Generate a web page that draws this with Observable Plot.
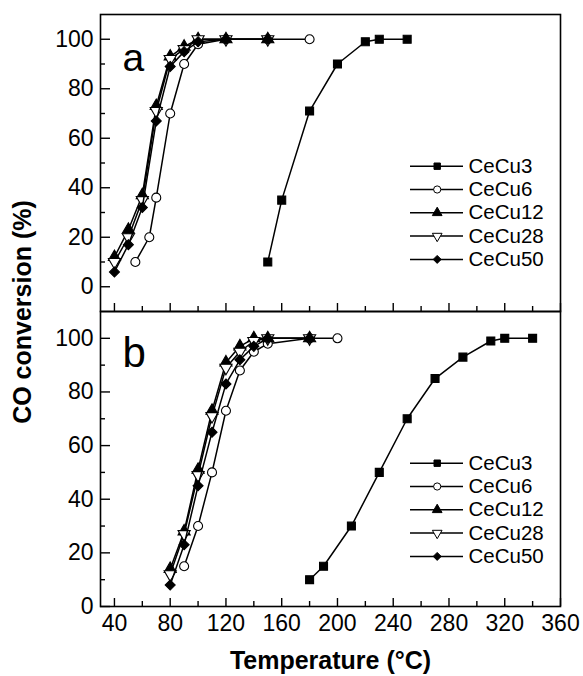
<!DOCTYPE html>
<html>
<head>
<meta charset="utf-8">
<script src="https://cdn.jsdelivr.net/npm/d3@7"></script>
<script src="https://cdn.jsdelivr.net/npm/@observablehq/plot@0.6"></script>
<style>
  html, body { margin: 0; padding: 0; background: #fff; }
  #wrap { position: relative; width: 583px; height: 676px; font-family: "Liberation Sans", Arial, sans-serif; }
  #wrap > svg, #wrap > div { position: absolute; left: 0; }
</style>
</head>
<body>
<div id="wrap"></div>
<script>
// ---- data ----
const seriesNames = ["CeCu3", "CeCu6", "CeCu12", "CeCu28", "CeCu50"];

// panel a
const aCeCu3T  = [150, 160, 180, 200, 220, 230, 250];
const aCeCu3V  = [10, 35, 71, 90, 99, 100, 100];
const aCeCu6T  = [55, 65, 70, 80, 90, 100, 120, 150, 180];
const aCeCu6V  = [10, 20, 36, 70, 90, 98, 100, 100, 100];
const aCeCu12T = [40, 50, 60, 70, 80, 90, 100, 120, 150];
const aCeCu12V = [12, 23, 37, 73, 93, 97, 100, 100, 100];
const aCeCu28T = [40, 50, 60, 70, 80, 90, 100, 120, 150];
const aCeCu28V = [10, 20, 35, 71, 92, 96, 100, 100, 100];
const aCeCu50T = [40, 50, 60, 70, 80, 90, 100, 120, 150];
const aCeCu50V = [6, 17, 32, 67, 89, 95, 99, 100, 100];

// panel b
const bCeCu3T  = [180, 190, 210, 230, 250, 270, 290, 310, 320, 340];
const bCeCu3V  = [10, 15, 30, 50, 70, 85, 93, 99, 100, 100];
const bCeCu6T  = [90, 100, 110, 120, 130, 140, 150, 180, 200];
const bCeCu6V  = [15, 30, 50, 73, 88, 95, 98, 100, 100];
const bCeCu12T = [80, 90, 100, 110, 120, 130, 140, 150, 180];
const bCeCu12V = [14, 28, 51, 73, 91, 97, 100, 100, 100];
const bCeCu28T = [80, 90, 100, 110, 120, 130, 140, 150, 180];
const bCeCu28V = [12, 27, 49, 71, 89, 95, 99, 100, 100];
const bCeCu50T = [80, 90, 100, 110, 120, 130, 140, 150, 180];
const bCeCu50V = [8, 23, 45, 65, 83, 92, 97, 100, 100];

// axes
const xMajor = [40, 80, 120, 160, 200, 240, 280, 320, 360];
const xMinor = [60, 100, 140, 180, 220, 260, 300, 340];
const yMajor = [0, 20, 40, 60, 80, 100];
const yMinor = [10, 30, 50, 70, 90];
const xTitle = "Temperature (°C)";
const yTitle = "CO conversion (%)";

// ---- styling ----
const downTriangle = {
  draw(context, size) {
    const s3 = Math.sqrt(3);
    const y = -Math.sqrt(size / (s3 * 3));
    context.moveTo(0, -y * 2);
    context.lineTo(-s3 * y, y);
    context.lineTo(s3 * y, y);
    context.closePath();
  }
};
const symbols = {CeCu3: "square", CeCu6: "circle", CeCu12: "triangle", CeCu28: downTriangle, CeCu50: "diamond2"};
const fills = {CeCu3: "black", CeCu6: "white", CeCu12: "black", CeCu28: "white", CeCu50: "black"};

const rows = (T, V, name) => T.map((t, i) => ({t, v: V[i], name}));
const dataA = [
  rows(aCeCu3T, aCeCu3V, "CeCu3"), rows(aCeCu6T, aCeCu6V, "CeCu6"),
  rows(aCeCu12T, aCeCu12V, "CeCu12"), rows(aCeCu28T, aCeCu28V, "CeCu28"),
  rows(aCeCu50T, aCeCu50V, "CeCu50")
];
const dataB = [
  rows(bCeCu3T, bCeCu3V, "CeCu3"), rows(bCeCu6T, bCeCu6V, "CeCu6"),
  rows(bCeCu12T, bCeCu12V, "CeCu12"), rows(bCeCu28T, bCeCu28V, "CeCu28"),
  rows(bCeCu50T, bCeCu50V, "CeCu50")
];

const W = 583, ML = 100, MR = 23;
const plotW = W - ML - MR;
const xDomain = [30, 360];
const font = "'Liberation Sans', Arial, sans-serif";

function panel({data, yDomain, height, marginTop, marginBottom, letter, bottomAxis}) {
  const plotH = height - marginTop - marginBottom;
  const xs = Plot.scale({x: {domain: xDomain, range: [ML, W - MR]}});
  const ys = Plot.scale({y: {domain: yDomain, range: [height - marginBottom, marginTop]}});
  const legTop = marginTop + 151.7, legStep = 23.3;
  const lx1 = xs.invert(410), lx2 = xs.invert(463), lxm = xs.invert(436.7), ltx = xs.invert(468);
  const legend = seriesNames.map((name, i) => ({name, y: ys.invert(legTop + i * legStep)}));

  const marks = [
    Plot.frame({strokeWidth: 1.6}),
    Plot.tickX(xMajor, {x: d => d, insetTop: plotH - 8, strokeWidth: 1.4}),
    Plot.tickX(xMinor, {x: d => d, insetTop: plotH - 5, strokeWidth: 1.4}),
    Plot.tickY(yMajor, {y: d => d, insetRight: plotW - 10, strokeWidth: 1.4}),
    Plot.tickY(yMinor, {y: d => d, insetRight: plotW - 5, strokeWidth: 1.4}),
    Plot.text(yMajor, {y: d => d, text: d => String(d), frameAnchor: "left", dx: -7, textAnchor: "end", fontSize: 23}),
    Plot.text([letter], {frameAnchor: "top-left", dx: 22, dy: letter === "a" ? 56 : 55, lineAnchor: "bottom", textAnchor: "start", fontSize: letter === "a" ? 39 : 42})
  ];
  for (const s of data) {
    const name = s[0].name;
    marks.push(Plot.line(s, {x: "t", y: "v", stroke: "black", strokeWidth: 1.5}));
    marks.push(Plot.dot(s, {x: "t", y: "v", symbol: () => symbols[name], r: 4.5, fill: fills[name], stroke: "black", strokeWidth: 1.1}));
  }
  for (const L of legend) {
    marks.push(Plot.ruleY([L.y], {x1: lx1, x2: lx2, stroke: "black", strokeWidth: 1.5}));
    marks.push(Plot.dot([L], {x: () => lxm, y: "y", symbol: () => symbols[L.name], r: 3.6, fill: fills[L.name], stroke: "black", strokeWidth: 1}));
    marks.push(Plot.text([L], {x: () => ltx, y: "y", text: "name", textAnchor: "start", fontSize: 20.5}));
  }
  if (bottomAxis) {
    marks.push(Plot.text(xMajor, {x: d => d, text: d => String(d), frameAnchor: "bottom", dy: 8, lineAnchor: "top", fontSize: 23}));
    marks.push(Plot.text([xTitle], {frameAnchor: "bottom", dy: 62, lineAnchor: "bottom", fontSize: 25, fontWeight: "bold"}));
  }
  return Plot.plot({
    width: W, height, marginTop, marginBottom, marginLeft: ML, marginRight: MR,
    x: {domain: xDomain, axis: null},
    y: {domain: yDomain, axis: null},
    style: {fontFamily: font, color: "black", background: "transparent", overflow: "visible"},
    marks
  });
}

const wrap = document.getElementById("wrap");
const panelA = panel({data: dataA, yDomain: [-10, 110], height: 312, marginTop: 14, marginBottom: 1, letter: "a", bottomAxis: false});
panelA.style.top = "0px";
const panelB = panel({data: dataB, yDomain: [0, 110], height: 366, marginTop: 1, marginBottom: 70, letter: "b", bottomAxis: true});
panelB.style.top = "310px";
wrap.appendChild(panelA);
wrap.appendChild(panelB);

const ns = "http://www.w3.org/2000/svg";
const ov = document.createElementNS(ns, "svg");
ov.setAttribute("width", 60); ov.setAttribute("height", 676);
ov.style.top = "0px"; ov.style.left = "0px";
const tt = document.createElementNS(ns, "text");
tt.setAttribute("transform", "translate(31,312) rotate(-90)");
tt.setAttribute("text-anchor", "middle");
tt.setAttribute("font-family", font);
tt.setAttribute("font-size", 25);
tt.setAttribute("font-weight", "bold");
tt.textContent = yTitle;
ov.appendChild(tt);
wrap.appendChild(ov);
</script>
</body>
</html>
